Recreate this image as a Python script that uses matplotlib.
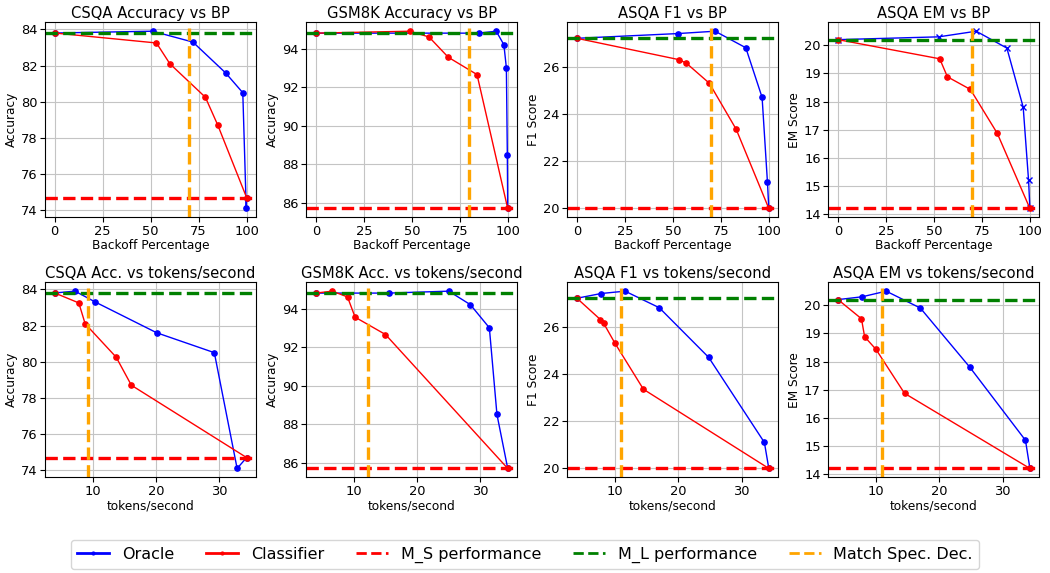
import matplotlib
matplotlib.use("Agg")
import matplotlib.pyplot as plt
from matplotlib.lines import Line2D

# ---- CSQA ----
csqa_oracle_bp = [0, 51, 72, 89, 98, 99.8, 100]
csqa_oracle_tps = [4.0, 7.2, 10.4, 20.1, 29.2, 32.8, 34.3]
csqa_oracle_acc = [83.8, 83.9, 83.3, 81.6, 80.5, 74.1, 74.7]
csqa_clf_bp = [0, 53, 60, 78.5, 85, 100]
csqa_clf_tps = [4.0, 7.8, 8.8, 13.7, 16.1, 34.3]
csqa_clf_acc = [83.8, 83.25, 82.1, 80.25, 78.7, 74.7]
csqa_ms, csqa_ml = 74.7, 83.8
csqa_spec_bp, csqa_spec_tps = 70, 9.3

# ---- GSM8K ----
gsm_oracle_bp = [0, 85, 94, 98, 99.3, 99.8, 100]
gsm_oracle_tps = [4.0, 15.5, 25.0, 28.4, 31.4, 32.6, 34.3]
gsm_oracle_acc = [94.8, 94.8, 94.9, 94.2, 93.0, 88.5, 85.7]
gsm_clf_bp = [0, 49, 59, 69, 84, 100]
gsm_clf_tps = [4.0, 6.6, 9.0, 10.2, 15.0, 34.3]
gsm_clf_acc = [94.8, 94.9, 94.6, 93.55, 92.65, 85.7]
gsm_ms, gsm_ml = 85.7, 94.8
gsm_spec_bp, gsm_spec_tps = 80, 12.3

# ---- ASQA ----
asqa_oracle_bp = [0, 52.5, 72, 88, 96.5, 99.3, 100]
asqa_oracle_tps = [4.0, 7.8, 11.6, 17.0, 24.8, 33.6, 34.3]
asqa_oracle_f1 = [27.2, 27.4, 27.5, 26.8, 24.7, 21.1, 20.0]
asqa_oracle_em = [20.2, 20.3, 20.5, 19.9, 17.8, 15.2, 14.2]
asqa_clf_bp = [0, 53, 57, 69, 83, 100]
asqa_clf_tps = [4.0, 7.7, 8.2, 10.0, 14.5, 34.3]
asqa_clf_f1 = [27.2, 26.3, 26.15, 25.3, 23.35, 20.0]
asqa_clf_em = [20.2, 19.52, 18.88, 18.43, 16.87, 14.2]
f1_ms, f1_ml = 20.0, 27.2
em_ms, em_ml = 14.2, 20.2
asqa_spec_bp, asqa_spec_tps = 70, 10.9

panels = [
    # (title, xlabel, ylabel, ox, oy, cx, cy, ms, ml, spec, oracle marker)
    ("CSQA Accuracy vs BP", "Backoff Percentage", "Accuracy",
     csqa_oracle_bp, csqa_oracle_acc, csqa_clf_bp, csqa_clf_acc, csqa_ms, csqa_ml, csqa_spec_bp, "o"),
    ("GSM8K Accuracy vs BP", "Backoff Percentage", "Accuracy",
     gsm_oracle_bp, gsm_oracle_acc, gsm_clf_bp, gsm_clf_acc, gsm_ms, gsm_ml, gsm_spec_bp, "o"),
    ("ASQA F1 vs BP", "Backoff Percentage", "F1 Score",
     asqa_oracle_bp, asqa_oracle_f1, asqa_clf_bp, asqa_clf_f1, f1_ms, f1_ml, asqa_spec_bp, "o"),
    ("ASQA EM vs BP", "Backoff Percentage", "EM Score",
     asqa_oracle_bp, asqa_oracle_em, asqa_clf_bp, asqa_clf_em, em_ms, em_ml, asqa_spec_bp, "x"),
    ("CSQA Acc. vs tokens/second", "tokens/second", "Accuracy",
     csqa_oracle_tps, csqa_oracle_acc, csqa_clf_tps, csqa_clf_acc, csqa_ms, csqa_ml, csqa_spec_tps, "o"),
    ("GSM8K Acc. vs tokens/second", "tokens/second", "Accuracy",
     gsm_oracle_tps, gsm_oracle_acc, gsm_clf_tps, gsm_clf_acc, gsm_ms, gsm_ml, gsm_spec_tps, "o"),
    ("ASQA F1 vs tokens/second", "tokens/second", "F1 Score",
     asqa_oracle_tps, asqa_oracle_f1, asqa_clf_tps, asqa_clf_f1, f1_ms, f1_ml, asqa_spec_tps, "o"),
    ("ASQA EM vs tokens/second", "tokens/second", "EM Score",
     asqa_oracle_tps, asqa_oracle_em, asqa_clf_tps, asqa_clf_em, em_ms, em_ml, asqa_spec_tps, "o"),
]

fig, axes = plt.subplots(2, 4, figsize=(10.5, 5.73), dpi=100)
fig.subplots_adjust(left=0.043, right=0.99, top=0.961, bottom=0.167,
                    wspace=0.237, hspace=0.333)

for ax, (title, xlabel, ylabel, ox, oy, cx, cy, ms, ml, spec, mk) in zip(axes.flat, panels):
    ax.plot(ox, oy, color="blue", marker=mk, markersize=3.8, linewidth=1)
    ax.plot(cx, cy, color="red", marker="o", markersize=3.8, linewidth=1)
    ax.axhline(ms, color="red", linestyle="--", linewidth=2.4)
    ax.axhline(ml, color="green", linestyle="--", linewidth=2.4)
    ax.axvline(spec, color="orange", linestyle="--", linewidth=2.4)
    ax.set_title(title, fontsize=10.6, pad=3)
    ax.set_xlabel(xlabel, fontsize=8.7, labelpad=1)
    ax.set_ylabel(ylabel, fontsize=8.7, labelpad=2)
    ax.tick_params(labelsize=9.4, pad=2)
    ax.grid(True, color="#c4c4c4")

handles = [
    Line2D([], [], color="blue", marker="o", markersize=2, linewidth=2),
    Line2D([], [], color="red", marker="o", markersize=2, linewidth=2),
    Line2D([], [], color="red", linestyle="--", linewidth=2),
    Line2D([], [], color="green", linestyle="--", linewidth=2),
    Line2D([], [], color="orange", linestyle="--", linewidth=2),
]
labels = ["Oracle", "Classifier", "M_S performance", "M_L performance", "Match Spec. Dec."]
fig.legend(handles, labels, loc="center", bbox_to_anchor=(0.5, 0.032), ncol=5,
           fontsize=11.5, handlelength=2, columnspacing=2.0, borderpad=0.4)

fig.savefig("out.png", dpi=100)
